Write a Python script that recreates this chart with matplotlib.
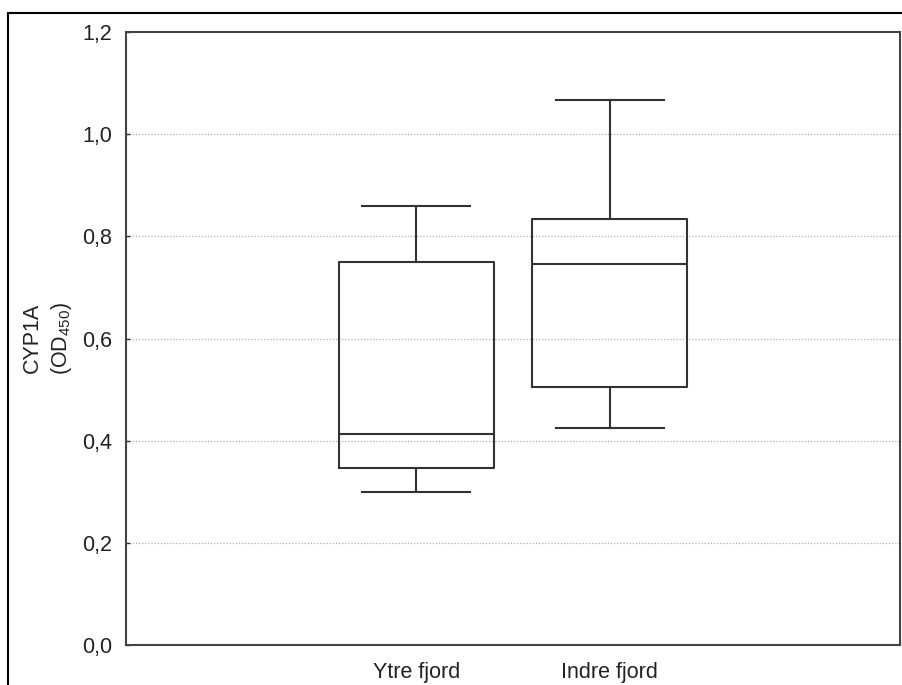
import matplotlib
matplotlib.use("Agg")
import matplotlib.pyplot as plt
import matplotlib.patches as mpatches

plt.rcParams['font.family'] = ['Liberation Sans', 'DejaVu Sans']
plt.rcParams['mathtext.fontset'] = 'custom'
plt.rcParams['mathtext.rm'] = 'Liberation Sans'

# Box summary per site
groups = ["Ytre fjord", "Indre fjord"]
whisker_low = [0.300, 0.425]
quart_low = [0.347, 0.506]
medians = [0.413, 0.746]
quart_high = [0.749, 0.833]
whisker_high = [0.860, 1.066]

y_ticks = [0.0, 0.2, 0.4, 0.6, 0.8, 1.0, 1.2]
y_tick_labels = ["0,0", "0,2", "0,4", "0,6", "0,8", "1,0", "1,2"]

line_col = '#333333'
txt_col = '#222222'
fs = 15.5

stats = []
for i, name in enumerate(groups):
    stats.append({
        'label': name,
        'whislo': whisker_low[i],
        'q1': quart_low[i],
        'med': medians[i],
        'q3': quart_high[i],
        'whishi': whisker_high[i],
        'fliers': [],
    })

fig = plt.figure(figsize=(9.02, 6.85), dpi=100)
ax = fig.add_axes([126 / 902, 1 - 645 / 685, (900 - 126) / 902, (645 - 32) / 685])

props = dict(color=line_col, linewidth=1.5)
ax.bxp(stats, positions=[1, 2], widths=0.8, capwidths=0.56,
       boxprops=props, whiskerprops=props, capprops=props,
       medianprops=props, showfliers=False)

ax.set_xlim(-0.5, 3.5)
ax.set_ylim(0, 1.2)
ax.set_yticks(y_ticks)
ax.set_yticklabels(y_tick_labels, fontsize=fs, color=txt_col)
ax.set_xticks([1, 2])
ax.set_xticklabels(groups, fontsize=fs, color=txt_col)
ax.tick_params(axis='y', direction='in', length=3, width=1, color=line_col, pad=10)
ax.tick_params(axis='x', length=0, pad=12)

# dotted horizontal grid inside the frame only
for v in y_ticks[1:-1]:
    ax.axhline(v, color='#b0b0b0', linestyle=(0, (1, 1.5)), linewidth=0.9, zorder=0)

for s in ax.spines.values():
    s.set_color('#444444')
    s.set_linewidth(1.5)

# axis title in two lines, rotated
fig.text(32 / 902, 1 - 338 / 685, "CYP1A", rotation=90, fontsize=fs,
         ha='center', va='center', color=txt_col)
fig.text(61 / 902, 1 - 338 / 685, r"(OD$_{450}$)", rotation=90, fontsize=fs,
         ha='center', va='center', color=txt_col)

# outer frame
frame = mpatches.Rectangle((8 / 902, -0.1), 1.2, (1 - 13 / 685) + 0.1,
                           transform=fig.transFigure, fill=False,
                           edgecolor='black', linewidth=1.5)
fig.patches.append(frame)

fig.savefig("out.png", dpi=100)
